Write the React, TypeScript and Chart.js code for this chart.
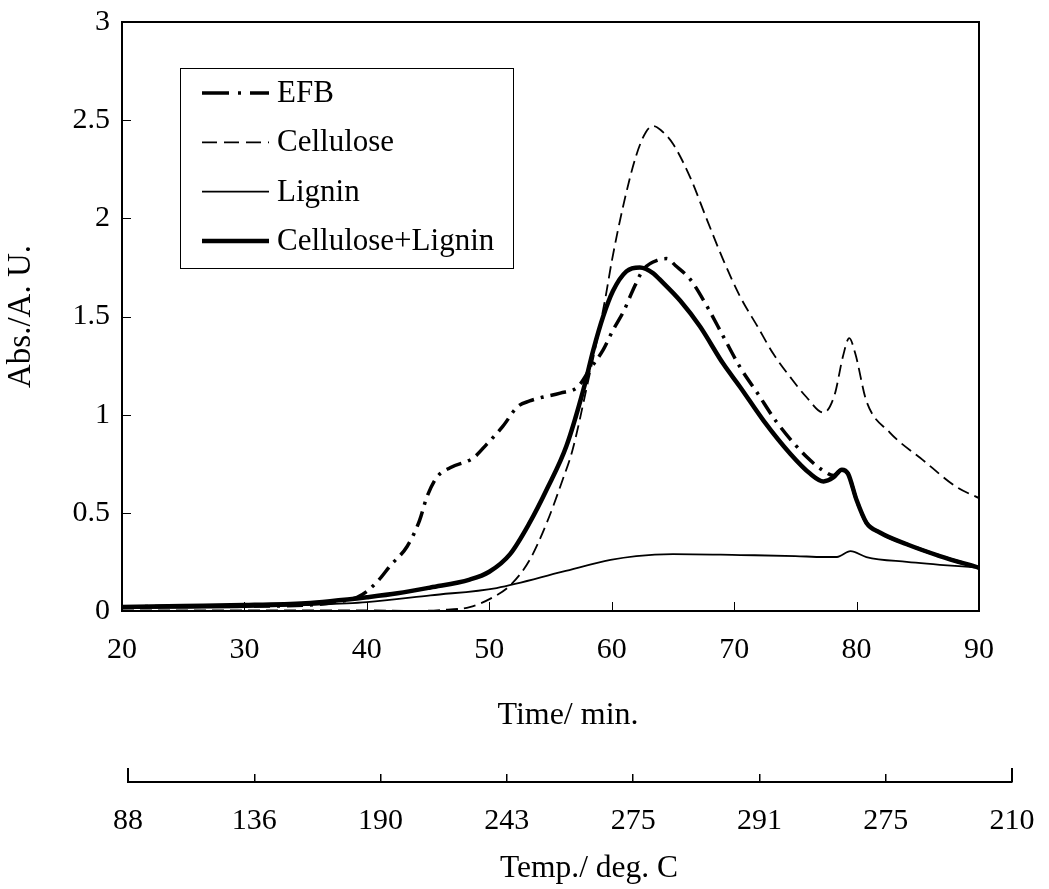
import React, { useEffect, useRef } from 'react';
import { Chart, registerables } from 'chart.js';

Chart.register(...registerables);

const FONT = '"Liberation Serif", "Times New Roman", Times, serif';

// ---------- data ----------
const seriesNames = ['EFB', 'Cellulose', 'Lignin', 'Cellulose+Lignin'];

const efbTime = [20, 25, 30, 35, 37.5, 39.2, 40, 41, 41.9, 43.3, 44.3, 44.9, 45.7, 46.8, 48.7, 49.8, 51.1, 52.3, 53.3, 54.1, 55.8, 57.2, 58.2, 59.3, 60.1, 61, 61.7, 62.6, 63.9, 64.5, 65.2, 66.4, 67.8, 69.1, 70.5, 71.9, 73.5, 76, 77.4, 78.1, 78.8, 79.3, 80, 80.8, 81.9, 84.1, 86.8, 90];
const efbAbs = [0.02, 0.025, 0.025, 0.03, 0.045, 0.07, 0.1, 0.16, 0.23, 0.33, 0.46, 0.58, 0.68, 0.73, 0.78, 0.85, 0.94, 1.04, 1.07, 1.085, 1.11, 1.14, 1.23, 1.33, 1.43, 1.53, 1.63, 1.74, 1.79, 1.795, 1.76, 1.69, 1.55, 1.4, 1.24, 1.11, 0.96, 0.78, 0.71, 0.69, 0.72, 0.7, 0.565, 0.45, 0.4, 0.34, 0.28, 0.22];

const celTime = [20, 30, 40, 44, 46, 48.4, 50.3, 51.7, 53.3, 54.7, 56, 56.8, 58, 58.8, 59.5, 60, 61, 62, 62.8, 63.4, 64, 65, 66.4, 67.8, 69.1, 70.5, 71.9, 73.2, 74.6, 75.9, 77.3, 78.2, 78.9, 79.4, 79.9, 80.8, 82.7, 85.4, 88.2, 90];
const celAbs = [0.003, 0.003, 0.003, 0.0, 0.005, 0.02, 0.07, 0.13, 0.26, 0.45, 0.67, 0.82, 1.15, 1.38, 1.6, 1.78, 2.08, 2.32, 2.44, 2.47, 2.45, 2.38, 2.21, 1.99, 1.79, 1.6, 1.45, 1.31, 1.19, 1.09, 1.01, 1.1, 1.3, 1.39, 1.31, 1.07, 0.91, 0.77, 0.63, 0.575];

const ligTime = [20, 30, 35, 40, 45.2, 50.6, 56, 59.9, 62, 65, 70.5, 75, 77.3, 78.4, 79.5, 80.8, 84.1, 90];
const ligAbs = [0.015, 0.02, 0.03, 0.045, 0.08, 0.117, 0.2, 0.26, 0.28, 0.29, 0.285, 0.28, 0.275, 0.275, 0.305, 0.275, 0.25, 0.22];

const clTime = [20, 25, 30, 35, 37, 40, 42.5, 45.2, 48.4, 50, 51.7, 53.3, 54.7, 56.3, 57.7, 58.5, 59.3, 60.1, 61.2, 62.3, 63.4, 63.9, 65.6, 67.2, 69.1, 70.5, 72.4, 74.6, 76.2, 77.3, 78.1, 78.8, 79.3, 80, 80.8, 81.9, 84.1, 86.8, 90];
const clAbs = [0.02, 0.025, 0.03, 0.04, 0.05, 0.07, 0.09, 0.12, 0.16, 0.2, 0.29, 0.45, 0.62, 0.84, 1.13, 1.33, 1.5, 1.63, 1.73, 1.75, 1.72, 1.69, 1.58, 1.45, 1.26, 1.14, 0.97, 0.8, 0.7, 0.66, 0.68, 0.72, 0.7, 0.565, 0.45, 0.4, 0.34, 0.28, 0.22];

const yTickLabels = ['0', '0.5', '1', '1.5', '2', '2.5', '3'];
const xTickLabels = ['20', '30', '40', '50', '60', '70', '80', '90'];
const tempLabels = ['88', '136', '190', '243', '275', '291', '275', '210'];

const xTitle = 'Time/ min.';
const yTitle = 'Abs./A. U.';
const tempTitle = 'Temp./ deg. C';

// ---------- styles ----------
const styles = [
  { width: 3.5, dash: [16, 7, 3, 7], legendDash: [27, 9, 3, 9] },
  { width: 1.8, dash: [12, 6], legendDash: [15, 7] },
  { width: 1.8, dash: [] as number[], legendDash: [] as number[] },
  { width: 4.5, dash: [] as number[], legendDash: [] as number[] },
];

const pts = (t: number[], v: number[]) => t.map((x, i) => ({ x, y: v[i] }));

const framePlugin = {
  id: 'frame',
  afterDraw(chart: any) {
    const { ctx, chartArea: a, scales } = chart;
    ctx.save();
    ctx.strokeStyle = '#000';
    ctx.lineWidth = 1;
    const xs = scales.x;
    const ys = scales.y;
    xs.ticks.forEach((t: any) => {
      const px = Math.round(xs.getPixelForValue(t.value)) + 0.5;
      ctx.beginPath();
      ctx.moveTo(px, a.bottom);
      ctx.lineTo(px, a.bottom - 9);
      ctx.stroke();
    });
    ys.ticks.forEach((t: any) => {
      const py = Math.round(ys.getPixelForValue(t.value)) + 0.5;
      ctx.beginPath();
      ctx.moveTo(a.left, py);
      ctx.lineTo(a.left + 9, py);
      ctx.stroke();
    });
    ctx.lineWidth = 2;
    ctx.strokeRect(a.left, a.top, a.right - a.left, a.bottom - a.top);

    // legend
    const bx = 180.5, by = 68.5, bw = 333, bh = 200;
    ctx.fillStyle = '#fff';
    ctx.fillRect(bx, by, bw, bh);
    ctx.lineWidth = 1;
    ctx.strokeRect(bx, by, bw, bh);
    ctx.font = `31px ${FONT}`;
    ctx.fillStyle = '#000';
    ctx.textAlign = 'left';
    ctx.textBaseline = 'middle';
    seriesNames.forEach((name, i) => {
      const y = 93 + i * 49.3;
      const st = styles[i];
      ctx.save();
      ctx.lineWidth = st.width;
      ctx.setLineDash(st.legendDash);
      ctx.lineCap = 'butt';
      ctx.beginPath();
      ctx.moveTo(202, y);
      ctx.lineTo(269, y);
      ctx.stroke();
      ctx.restore();
      ctx.fillText(name, 277, y + 1);
    });

    ctx.font = `32px ${FONT}`;
    ctx.textAlign = 'center';
    ctx.textBaseline = 'alphabetic';
    ctx.fillText(xTitle, 568, 724);
    ctx.restore();
  },
};

const tempPlugin = {
  id: 'tempAxis',
  afterDraw(chart: any) {
    const { ctx, chartArea: a, scales } = chart;
    const s = scales.x;
    ctx.save();
    ctx.strokeStyle = '#000';
    ctx.lineWidth = 2;
    [0, s.ticks.length - 1].forEach((i) => {
      const px = s.getPixelForTick(i);
      ctx.beginPath();
      ctx.moveTo(px, a.bottom);
      ctx.lineTo(px, a.bottom - 14);
      ctx.stroke();
    });
    ctx.font = `31.5px ${FONT}`;
    ctx.fillStyle = '#000';
    ctx.textAlign = 'center';
    ctx.textBaseline = 'alphabetic';
    ctx.fillText(tempTitle, 589, 877);
    ctx.restore();
  },
};

export default function App() {
  const mainRef = useRef<HTMLCanvasElement>(null);
  const tempRef = useRef<HTMLCanvasElement>(null);

  useEffect(() => {
    const data = [pts(efbTime, efbAbs), pts(celTime, celAbs), pts(ligTime, ligAbs), pts(clTime, clAbs)];
    const main = new Chart(mainRef.current!, {
      type: 'line',
      data: {
        datasets: seriesNames.map((label, i) => ({
          label,
          data: data[i],
          borderColor: '#000',
          backgroundColor: '#000',
          borderWidth: styles[i].width,
          borderDash: styles[i].dash,
          pointRadius: 0,
          fill: false,
          cubicInterpolationMode: 'monotone' as const,
        })),
      },
      options: {
        animation: false,
        responsive: false,
        maintainAspectRatio: false,
        layout: { padding: { left: 0, right: 70, top: 22, bottom: 0 } },
        plugins: { legend: { display: false }, tooltip: { enabled: false } },
        scales: {
          x: {
            type: 'linear',
            min: 20,
            max: 90,
            ticks: {
              stepSize: 10, color: '#000', font: { family: FONT, size: 30 }, padding: 21, maxRotation: 0,
              callback: (_v: any, i: number) => xTickLabels[i],
            },
            grid: { display: false, drawTicks: false },
            border: { display: false },
            afterFit: (s: any) => { s.height = 278; s.paddingLeft = 0; s.paddingRight = 0; },
          },
          y: {
            type: 'linear',
            min: 0,
            max: 3,
            ticks: {
              stepSize: 0.5, color: '#000', font: { family: FONT, size: 30 }, padding: 12,
              callback: (_v: any, i: number) => yTickLabels[i],
            },
            grid: { display: false, drawTicks: false },
            border: { display: false },
            title: { display: true, text: yTitle, color: '#000', font: { family: FONT, size: 33 }, padding: { top: 2, bottom: 0 } },
            afterFit: (s: any) => { s.width = 122; s.paddingTop = 0; s.paddingBottom = 0; },
          },
        },
      },
      plugins: [framePlugin],
    } as any);

    const temp = new Chart(tempRef.current!, {
      type: 'line',
      data: { labels: tempLabels, datasets: [] },
      options: {
        animation: false,
        responsive: false,
        maintainAspectRatio: false,
        layout: { padding: { left: 128, right: 37, top: 774, bottom: 0 } },
        plugins: { legend: { display: false }, tooltip: { enabled: false } },
        scales: {
          x: {
            type: 'category',
            offset: false,
            ticks: { color: '#000', font: { family: FONT, size: 30 }, padding: 21, autoSkip: false, maxRotation: 0 },
            grid: { display: true, drawOnChartArea: true, drawTicks: false, color: '#000', lineWidth: 1.5 },
            border: { display: true, color: '#000', width: 2 },
            afterFit: (s: any) => { s.height = 107; s.paddingLeft = 0; s.paddingRight = 0; },
          },
          y: { display: false },
        },
      },
      plugins: [tempPlugin],
    } as any);

    return () => {
      main.destroy();
      temp.destroy();
    };
  }, []);

  return (
    <div style={{ position: 'absolute', left: 0, top: 0, width: 1049, height: 889, background: '#fff' }}>
      <canvas ref={mainRef} width={1049} height={889} style={{ position: 'absolute', left: 0, top: 0 }} />
      <canvas ref={tempRef} width={1049} height={889} style={{ position: 'absolute', left: 0, top: 0, pointerEvents: 'none' }} />
    </div>
  );
}
